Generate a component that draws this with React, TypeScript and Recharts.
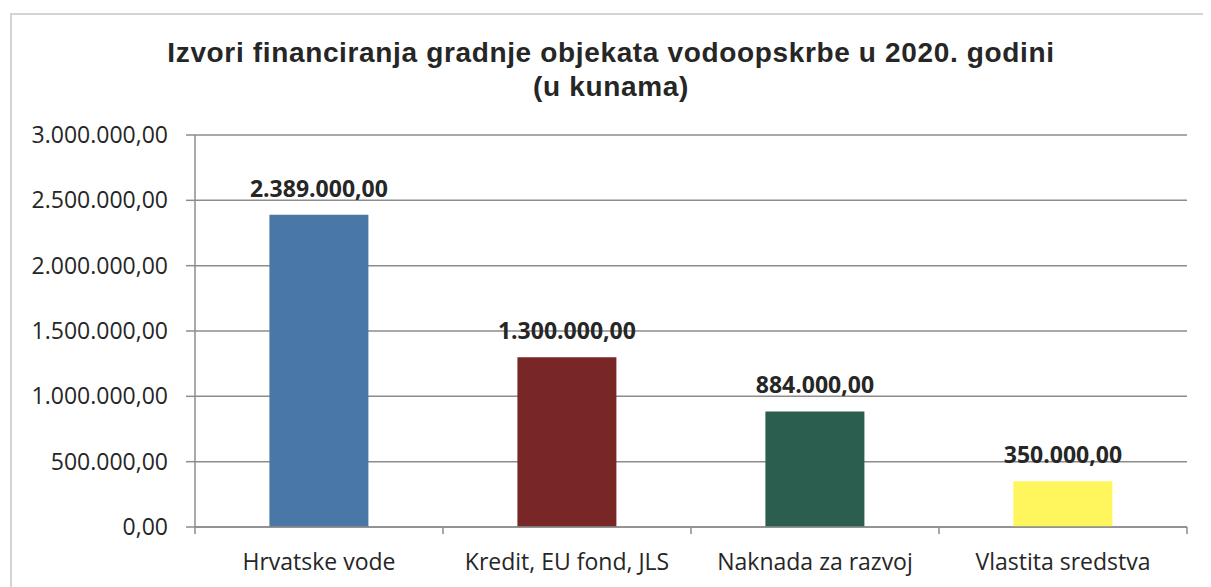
import React from "react";
import {
  BarChart,
  Bar,
  XAxis,
  YAxis,
  CartesianGrid,
  Cell,
  LabelList
} from "recharts";

const categories = ["Hrvatske vode", "Kredit, EU fond, JLS", "Naknada za razvoj", "Vlastita sredstva"];
const amounts = [2389000, 1300000, 884000, 350000];
const barColors = ["#4a78a6", "#782726", "#2c5e4f", "#fff55c"];
const yTicks = [0, 500000, 1000000, 1500000, 2000000, 2500000, 3000000];

const data = categories.map((name, i) => ({ name, value: amounts[i] }));

// hr format: 2.389.000,00
const fmt = (v: number) => {
  const whole = Math.round(v).toString().replace(/\B(?=(\d{3})+(?!\d))/g, ".");
  return whole + ",00";
};

const FONT = "'Open Sans', 'Noto Sans', sans-serif";

const CategoryTick = (props: any) => {
  const { x, y, payload, index, visibleTicksCount } = props;
  const half = payload.offset || 0;
  const isLast = index === visibleTicksCount - 1;
  return (
    <g>
      <line x1={x - half} x2={x - half} y1={y} y2={y + 7} stroke="#8c8c8c" strokeWidth={1.5} />
      {isLast && (
        <line x1={x + half} x2={x + half} y1={y} y2={y + 7} stroke="#8c8c8c" strokeWidth={1.5} />
      )}
      <text x={x} y={y + 43} textAnchor="middle" fill="#262626" fontSize={23} fontFamily={FONT}>
        {payload.value}
      </text>
    </g>
  );
};

const App = () => {
  return (
    <div style={{ position: "relative", width: 1211, height: 587, margin: "-8px 0 0 -8px", background: "#fff", overflow: "hidden" }}>
      <div
        style={{
          position: "absolute",
          left: 10,
          top: 13,
          width: 1198,
          height: 600,
          border: "2px solid #d4d4d4",
          boxSizing: "border-box"
        }}
      />
      <div
        style={{
          position: "absolute",
          left: 0,
          width: 1222,
          top: 36,
          textAlign: "center",
          fontFamily: "'Liberation Sans', Arial, sans-serif",
          fontWeight: "bold",
          fontSize: 28,
          letterSpacing: 0.65,
          lineHeight: "34px",
          color: "#262626"
        }}
      >
        Izvori financiranja gradnje objekata vodoopskrbe u 2020. godini
        <br />
        (u kunama)
      </div>
      <div style={{ position: "absolute", left: 0, top: 0 }}>
        <BarChart
          width={1211}
          height={587}
          data={data}
          margin={{ top: 135, right: 24, bottom: 10, left: 0 }}
          barCategoryGap="30%"
        >
          <CartesianGrid vertical={false} stroke="#8c8c8c" strokeWidth={1.5} />
          <XAxis
            dataKey="name"
            axisLine={{ stroke: "#8c8c8c", strokeWidth: 1.5 }}
            tickLine={false}
            tickSize={0}
            tickMargin={0}
            height={50}
            interval={0}
            tick={<CategoryTick />}
          />
          <YAxis
            width={195}
            domain={[0, 3000000]}
            ticks={yTicks}
            interval={0}
            tickFormatter={fmt}
            axisLine={{ stroke: "#8c8c8c", strokeWidth: 1.5 }}
            tickLine={{ stroke: "#8c8c8c", strokeWidth: 1.5 }}
            tickSize={9}
            tickMargin={18}
            tick={{ fill: "#262626", fontSize: 23, fontFamily: FONT }}
          />
          <Bar dataKey="value" isAnimationActive={false}>
            {data.map((d, i) => (
              <Cell key={d.name} fill={barColors[i]} />
            ))}
            <LabelList
              dataKey="value"
              position="top"
              offset={18}
              formatter={(v: any) => fmt(Number(v))}
              style={{ fill: "#262626", fontSize: 23, fontWeight: "bold", fontFamily: FONT }}
            />
          </Bar>
        </BarChart>
      </div>
    </div>
  );
};

export default App;
